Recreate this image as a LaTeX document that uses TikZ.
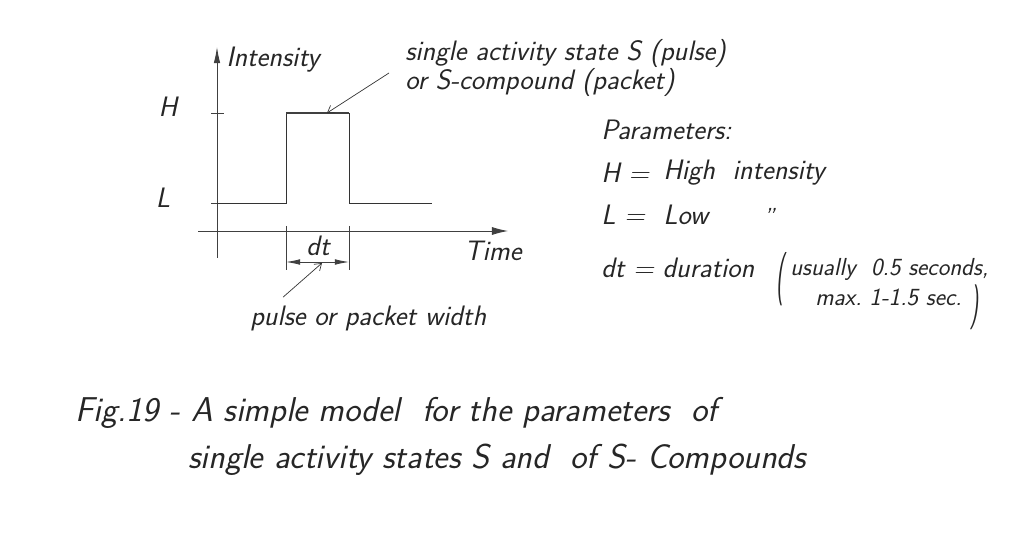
\documentclass[tikz,border=0pt]{standalone}
\usepackage{tikz}
\usetikzlibrary{positioning, arrows.meta, calc}

\tikzset{
  hand/.style={font=\sffamily\itshape\fontsize{20}{16.5}\selectfont, inner sep=0pt, text=black!85},
  handsmall/.style={font=\sffamily\itshape\fontsize{17.5}{18}\selectfont, inner sep=0pt, text=black!85},
  capt/.style={font=\sffamily\itshape\fontsize{24.5}{28}\selectfont, inner sep=0pt, text=black!85},
  axis/.style={line width=0.6pt, black!75},
  pointer/.style={line width=0.5pt, black!80, -{Straight Barb[length=1.6mm, width=2.2mm]}}
}

\begin{document}
\begin{tikzpicture}[x=0.025cm, y=-0.025cm]
\useasboundingbox (0,0) rectangle (1035,538);

% Axes
\coordinate (ybot) at (217, 258);
\coordinate (ytop) at (217, 47);
\coordinate (xleft) at (198, 231);
\coordinate (xright) at (508, 231);
\draw[axis, -{Latex[length=4mm, width=1.6mm]}] (ybot) -- (ytop);
\draw[axis, -{Latex[length=4mm, width=2mm]}] (xleft) -- (xright);
\draw[axis] (211, 113) -- (224, 113);
\draw[axis] (211, 203) -- (224, 203);

\node[hand, anchor=west] (intensity) at (226, 60) {Intensity};
\node[hand, anchor=center] (timelbl) at (493, 251) {Time};
\node[hand] (hlbl) at (168, 107) {H};
\node[hand] (llbl) at (163, 198) {L};

% Pulse
\coordinate (htop) at (327, 113);
\draw[line width=0.6pt, black!80] (217, 203) -- (286, 203) -- (286, 113);
\draw[line width=0.6pt, black!80] (349, 113) -- (349, 203) -- (432, 203);
\draw[line width=2pt, black!75] (286, 113) -- (349, 113);

% Duration
\draw[axis] (286, 226) -- (286, 270);
\draw[axis] (349, 226) -- (349, 270);
\coordinate (dtmid) at (322, 263);
\draw[axis, {Latex[length=3.5mm, width=1.4mm]}-{Latex[length=3.5mm, width=1.4mm]}] (286, 262) -- (349, 262);
\node[hand] (dt) at (318, 246) {dt};

% Labels with pointers
\node[hand, anchor=west, align=left] (state) at (405, 68) {single activity state S (pulse)\\or S-compound (packet)};
\draw[pointer] ($(state.west)+(-16,5)$) -- (htop);
\node[hand, anchor=west] (width) at (250, 318) {pulse or packet width};
\draw[pointer] ($(width.north west)+(33,-8)$) -- (dtmid);

% Parameters
\node[hand, anchor=west] (params) at (601, 130) {Parameters:};
\node[hand, anchor=west] (heq) at (601, 173) {H =};
\node[hand, anchor=west] (high) at (663, 173) {High\ \ intensity};
\node[hand, anchor=west] (leq) at (601, 215) {L =};
\node[hand, anchor=west] (low) at (663, 215) {Low};
\node[handsmall, anchor=center] (ditto) at (769, 217) {''};
\node[hand, anchor=west] (dteq) at (601, 268) {dt = duration};
\node[hand] (lpar) at (781, 279) {\scalebox{0.8}[1.9]{(}};
\node[handsmall, anchor=west] (usual) at (790, 269) {usually\ \ 0.5 seconds,};
\node[handsmall, anchor=west] (maxi) at (815, 297) {max.\ 1-1.5 sec.};
\node[hand] (rpar) at (975, 307) {\scalebox{0.8}[1.6]{)}};

% Caption
\node[capt, anchor=west] (cap1) at (75, 413) {Fig.19 - A simple model\ \ for the parameters\ \ of};
\node[capt, anchor=west] (cap2) at (188, 460) {single activity states S and\ \ of S- Compounds};

\end{tikzpicture}
\end{document}
